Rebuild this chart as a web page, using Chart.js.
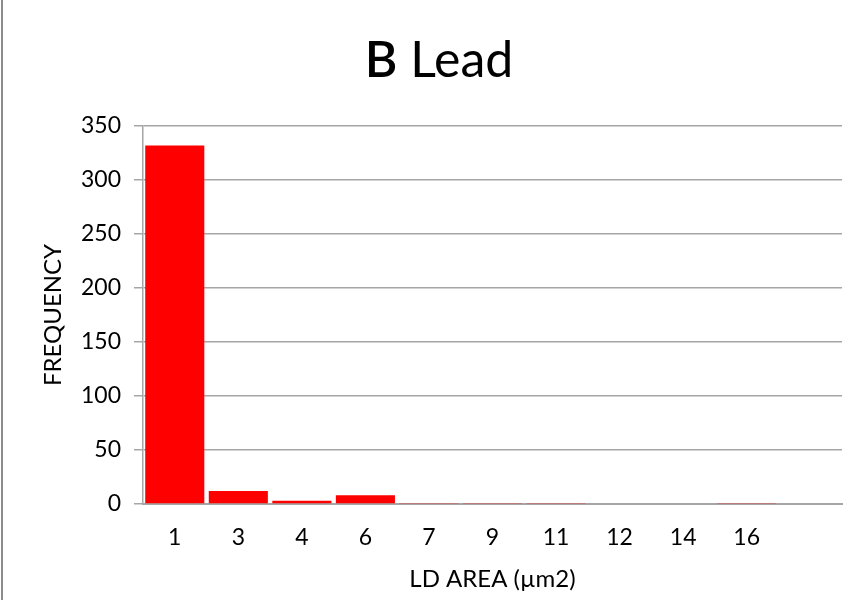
<!DOCTYPE html>
<html>
<head>
<meta charset="utf-8">
<script src="https://cdn.jsdelivr.net/npm/chart.js@4.4.1/dist/chart.umd.min.js"></script>
<style>
  html, body { margin: 0; padding: 0; background: #fff; }
  #wrap { width: 867px; height: 600px; position: relative; }
</style>
</head>
<body>
<div id="wrap"><canvas id="leadChart" width="867" height="600"></canvas></div>
<script>
// chart data
const areaLabels = ['1', '3', '4', '6', '7', '9', '11', '12', '14', '16', ''];
const frequency = [332, 12, 3, 8, 1, 1, 1, 0, 0, 1, null];
const yTicks = [0, 50, 100, 150, 200, 250, 300, 350];

const FONT = 'Lato, "Open Sans", sans-serif';
Chart.defaults.font.family = FONT;
Chart.defaults.color = '#000';

// title with bold "B" and normal "Lead", plus the frame line on the left
const titlePlugin = {
    id: 'mixedTitle',
    beforeDraw(chart) {
        const ctx = chart.ctx;
        ctx.save();
        ctx.strokeStyle = '#8c8c8c';
        ctx.lineWidth = 2;
        ctx.beginPath();
        ctx.moveTo(2, 0);
        ctx.lineTo(2, 600);
        ctx.stroke();
        ctx.restore();
    },
    afterDraw(chart) {
        const ctx = chart.ctx;
        ctx.save();
        ctx.fillStyle = '#000';
        ctx.textBaseline = 'alphabetic';
        ctx.textAlign = 'left';
        const boldFont = '600 50px ' + FONT;
        const normFont = '50px ' + FONT;
        ctx.font = boldFont;
        const w1 = ctx.measureText('B').width;
        ctx.font = normFont;
        const w2 = ctx.measureText(' Lead').width;
        const x0 = 439 - (w1 + w2) / 2;
        ctx.font = boldFont;
        ctx.fillText('B', x0, 77);
        ctx.font = normFont;
        ctx.fillText(' Lead', x0 + w1, 77);
        ctx.restore();
    }
};

const ctx = document.getElementById('leadChart').getContext('2d');
const leadChart = new Chart(ctx, {
    type: 'bar',
    data: {
        labels: areaLabels,
        datasets: [{
            label: 'Frequency',
            data: frequency,
            backgroundColor: '#ff0000',
            borderWidth: 0,
            barPercentage: 0.93,
            categoryPercentage: 1.0
        }]
    },
    options: {
        responsive: false,
        animation: false,
        layout: { padding: { left: 10, right: 25, top: 126, bottom: 0 } },
        plugins: {
            legend: { display: false },
            title: { display: false },
            tooltip: { enabled: false }
        },
        scales: {
            x: {
                grid: { display: false, drawTicks: false },
                border: { display: true, color: '#a6a6a6', width: 2 },
                ticks: { font: { size: 23 }, padding: 20, maxRotation: 0, autoSkip: false },
                title: {
                    display: true,
                    text: 'LD AREA (µm2)',
                    font: { size: 24 },
                    padding: { top: 0, bottom: 6 }
                },
                afterFit: s => { s.height = 96; }
            },
            y: {
                min: 0,
                max: 350,
                afterBuildTicks: s => { s.ticks = yTicks.map(v => ({ value: v })); },
                grid: { color: '#a6a6a6', lineWidth: 1.5, tickLength: 9 },
                border: { display: true, color: '#a6a6a6', width: 1.5 },
                ticks: { font: { size: 23 }, padding: 13 },
                title: {
                    display: true,
                    text: 'FREQUENCY',
                    font: { size: 24 },
                    padding: { top: 29, bottom: 0 }
                },
                afterFit: s => { s.width = 133; }
            }
        }
    },
    plugins: [titlePlugin]
});
</script>
</body>
</html>
